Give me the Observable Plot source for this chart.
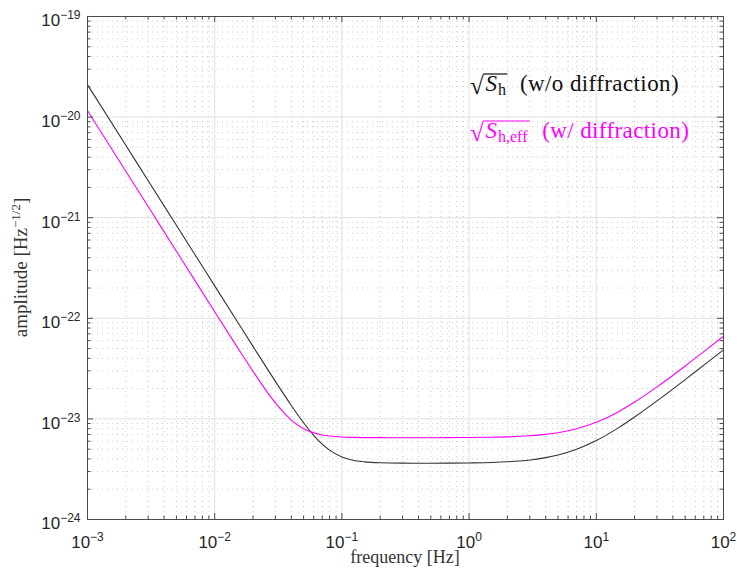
<!DOCTYPE html>
<html>
<head>
<meta charset="utf-8">
<script src="https://cdn.jsdelivr.net/npm/d3@7"></script>
<script src="https://cdn.jsdelivr.net/npm/@observablehq/plot@0.6"></script>
<style>
  html, body { margin: 0; padding: 0; background: #fff; }
  #chart svg { display: block; }
</style>
</head>
<body>
<div id="chart"></div>
<script>
// ---- data ----
const freq = [0.001, 0.002, 0.003, 0.005, 0.007, 0.01, 0.015, 0.02, 0.03, 0.04,
  0.05, 0.06, 0.07, 0.08, 0.1, 0.12, 0.15, 0.2, 0.3, 0.5,
  0.7, 1, 1.5, 2, 3, 4, 5, 7, 10, 15,
  20, 30, 50, 70, 100];
const sh = [2.1e-20, 5.25e-21, 2.33e-21, 8.4e-22, 4.29e-22, 2.1e-22, 9.34e-23, 5.26e-23, 2.36e-23, 1.36e-23,
  9.15e-24, 6.87e-24, 5.61e-24, 4.89e-24, 4.18e-24, 3.90e-24, 3.74e-24, 3.66e-24, 3.63e-24, 3.62e-24,
  3.63e-24, 3.65e-24, 3.69e-24, 3.75e-24, 3.91e-24, 4.12e-24, 4.37e-24, 4.99e-24, 6.09e-24, 8.19e-24,
  1.045e-23, 1.51e-23, 2.46e-23, 3.42e-23, 4.85e-23];
const shEff = [1.16e-20, 2.9e-21, 1.29e-21, 4.64e-22, 2.37e-22, 1.16e-22, 5.2e-23, 2.97e-23, 1.44e-23, 9.74e-24,
  7.99e-24, 7.26e-24, 6.92e-24, 6.75e-24, 6.60e-24, 6.55e-24, 6.52e-24, 6.51e-24, 6.50e-24, 6.50e-24,
  6.52e-24, 6.53e-24, 6.58e-24, 6.63e-24, 6.80e-24, 7.02e-24, 7.29e-24, 7.98e-24, 9.26e-24, 1.18e-23,
  1.47e-23, 2.08e-23, 3.36e-23, 4.67e-23, 6.63e-23];
const xTickExponents = [-3, -2, -1, 0, 1, 2];
const yTickExponents = [-24, -23, -22, -21, -20, -19];
const seriesNames = ["w/o diffraction", "w/ diffraction"];
const seriesSubs = ["h", "h,eff"];
const xLabel = "frequency [Hz]";
const yLabel = ["amplitude [Hz", "−1/2", "]"];

// ---- layout ----
const W = 737, H = 569, mL = 87, mR = 14, mT = 16, mB = 50;
const innerW = W - mL - mR, innerH = H - mT - mB;
const axisColor = "#4a4a4a";
const colBlack = "#333333", colMag = "#ff00ff";

const xMajor = xTickExponents.map(e => 10 ** e);
const yMajor = yTickExponents.map(e => 10 ** e);
const minorOf = exps => exps.slice(0, -1).flatMap(e => d3.range(2, 10).map(k => k * 10 ** e));
const xMinor = minorOf(xTickExponents);
const yMinor = minorOf(yTickExponents);
const fmt = d => `10^${Math.round(Math.log10(d))}`;

const chart = Plot.plot({
  width: W, height: H,
  marginLeft: mL, marginRight: mR, marginTop: mT, marginBottom: mB,
  style: "font-family: 'Liberation Sans', Arial, sans-serif; font-size: 17px; color: #262626; background: #fff;",
  x: {type: "log", domain: [1e-3, 1e2]},
  y: {type: "log", domain: [1e-24, 1e-19]},
  marks: [
    // grid
    Plot.ruleX(xMinor, {x: d => d, stroke: "#c4c4c4", strokeDasharray: "1,4", strokeWidth: 0.9}),
    Plot.ruleY(yMinor, {y: d => d, stroke: "#c4c4c4", strokeDasharray: "1,4", strokeWidth: 0.9}),
    Plot.ruleX(xMajor, {x: d => d, stroke: "#e0e0e0", strokeWidth: 1}),
    Plot.ruleY(yMajor, {y: d => d, stroke: "#e0e0e0", strokeWidth: 1}),
    // curves
    Plot.line(freq, {x: d => d, y: (d, i) => sh[i], stroke: colBlack, strokeWidth: 1.1, curve: "monotone-x"}),
    Plot.line(freq, {x: d => d, y: (d, i) => shEff[i], stroke: colMag, strokeWidth: 1.1, curve: "monotone-x"}),
    // frame
    Plot.frame({stroke: axisColor, strokeWidth: 1}),
    // inward ticks: bottom / top
    Plot.ruleX(xMajor, {x: d => d, insetTop: innerH - 6, stroke: axisColor}),
    Plot.ruleX(xMajor, {x: d => d, insetBottom: innerH - 6, stroke: axisColor}),
    Plot.ruleX(xMinor, {x: d => d, insetTop: innerH - 3.5, stroke: axisColor}),
    Plot.ruleX(xMinor, {x: d => d, insetBottom: innerH - 3.5, stroke: axisColor}),
    // inward ticks: left / right
    Plot.ruleY(yMajor, {y: d => d, insetRight: innerW - 6, stroke: axisColor}),
    Plot.ruleY(yMajor, {y: d => d, insetLeft: innerW - 6, stroke: axisColor}),
    Plot.ruleY(yMinor, {y: d => d, insetRight: innerW - 3.5, stroke: axisColor}),
    Plot.ruleY(yMinor, {y: d => d, insetLeft: innerW - 3.5, stroke: axisColor}),
    // tick labels
    Plot.axisX({ticks: xMajor, tickFormat: fmt, tickSize: 0, tickPadding: 16, label: null}),
    Plot.axisY({ticks: yMajor, tickFormat: fmt, tickSize: 0, tickPadding: 7, label: null})
  ]
});

document.getElementById("chart").appendChild(chart);
const NS = "http://www.w3.org/2000/svg";

// superscripts on tick labels
chart.querySelectorAll("text").forEach(t => {
  const m = (t.textContent || "").match(/^10\^(-?\d+)$/);
  if (!m) return;
  const target = t.querySelector("tspan") || t;
  target.textContent = "10";
  const sup = document.createElementNS(NS, "tspan");
  sup.setAttribute("dy", "-7");
  sup.setAttribute("font-size", "12");
  sup.textContent = m[1].replace("-", "−");
  target.appendChild(sup);
  const isY = t.closest('[aria-label^="y-axis"]');
  if (isY) t.setAttribute("dy", "4.4");
});

const svg = d3.select(chart);
const serif = "'Liberation Serif', 'Times New Roman', serif";

// x label
svg.append("text")
  .attr("x", mL + innerW / 2).attr("y", 563)
  .attr("text-anchor", "middle")
  .style("font-family", serif).attr("font-size", 18).attr("fill", "#333")
  .text(xLabel);

// y label
const yl = svg.append("text")
  .attr("transform", `translate(27,${mT + innerH / 2}) rotate(-90)`)
  .attr("text-anchor", "middle")
  .style("font-family", serif).attr("font-size", 19).attr("fill", "#333");
yl.append("tspan").text(yLabel[0]);
yl.append("tspan").attr("dy", -7).attr("font-size", 13).text(yLabel[1]);
yl.append("tspan").attr("dy", 7).text(yLabel[2]);

// legend
function legendEntry(x, y, color, sub, name) {
  const g = svg.append("g").attr("fill", color).attr("text-anchor", "start");
  const txt = () => g.append("text").style("font-family", serif).attr("text-anchor", "start");
  const rad = txt().attr("x", x).attr("y", y + 3).attr("font-size", 25).text("√");
  const rb = rad.node().getBBox();
  const sx = rb.x + rb.width;
  const s = txt().attr("x", sx + 1.5).attr("y", y).attr("font-size", 23);
  s.append("tspan").attr("font-style", "italic").text("S");
  s.append("tspan").attr("dy", 4).attr("dx", 1).attr("font-size", 16).text(sub);
  const sb = s.node().getBBox();
  const ex = sb.x + sb.width;
  g.append("line")
    .attr("x1", sx - 0.8).attr("x2", ex + 1.5)
    .attr("y1", rb.y + 2).attr("y2", rb.y + 2)
    .attr("stroke", color).attr("stroke-width", 1.2);
  txt().attr("x", ex + 14).attr("y", y).attr("font-size", 23)
    .attr("letter-spacing", 0.4).text(`(${name})`);
}
legendEntry(470, 91, "#111", seriesSubs[0], seriesNames[0]);
legendEntry(470, 138, colMag, seriesSubs[1], seriesNames[1]);
</script>
</body>
</html>
